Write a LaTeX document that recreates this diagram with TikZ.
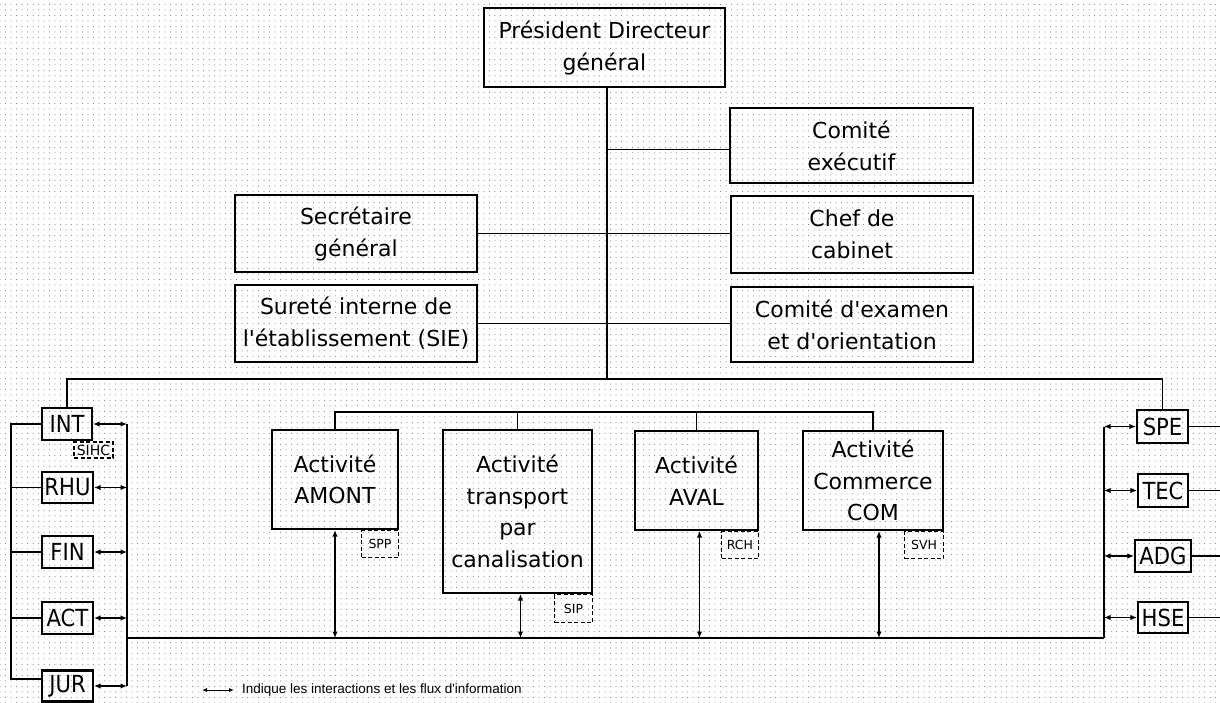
\documentclass[tikz,border=0pt]{standalone}
\usepackage{fontspec}
\setmainfont{DejaVu Sans}[Ligatures=TeXOff]
\newfontfamily\unitfont{DejaVu Sans Condensed}[Ligatures=TeXOff]
\newfontfamily\legendfont{Liberation Sans}[Ligatures=TeXOff]
\usetikzlibrary{arrows.meta,patterns.meta}

\tikzset{
  orgbox/.style={draw, line width=2.1pt, align=center, inner sep=0pt,
    font=\fontsize{22}{32}\selectfont},
  actbox/.style={orgbox, font=\fontsize{22}{31.5}\selectfont},
  unitbox/.style={draw, line width=2.1pt, inner sep=0pt,
    font=\unitfont\fontsize{23.5}{23.5}\selectfont},
  tagbox/.style={draw, line width=1.1pt, dash pattern=on 4pt off 2.5pt,
    inner sep=0pt, anchor=north east, font=\fontsize{12.5}{12.5}\selectfont},
  link/.style={line width=1.9pt},
  flow/.style={line width=1.5pt,
    {Latex[length=6.5pt,width=5.5pt]}-{Latex[length=6.5pt,width=5.5pt]}},
  legendflow/.style={line width=1pt,
    {Latex[length=5pt,width=4pt]}-{Latex[length=5pt,width=4pt]}},
}

\begin{document}
\begin{tikzpicture}[x=1pt, y=-1pt]
\useasboundingbox (0,0) rectangle (1220,703);
% dotted drawing grid behind the chart
\fill[pattern={Dots[distance=5.5pt, radius=0.5pt]}, pattern color=black!55]
  (0,0) rectangle (1220,703);

% ---- direction ----
\node[orgbox, minimum width=241, minimum height=79] (pdg) at (604.5,47.5) {Président Directeur\\général};
\node[orgbox, minimum width=243, minimum height=75] (cex) at (851.5,145.5) {Comité\\exécutif};
\node[orgbox, minimum width=242, minimum height=77] (cab) at (852,234.5) {Chef de\\cabinet};
\node[orgbox, minimum width=242, minimum height=75] (cxo) at (852,324.5) {Comité d'examen\\et d'orientation};
\node[orgbox, minimum width=242, minimum height=77] (sg) at (356,233.5) {Secrétaire\\général};
\node[orgbox, minimum width=242, minimum height=77] (sie) at (356,323.5) {Sureté interne de\\l'établissement (SIE)};

% ---- activities ----
\node[actbox, minimum width=126, minimum height=99] (amont) at (335,479.5) {Activité\\AMONT};
\node[actbox, minimum width=149, minimum height=163] (trans) at (517.5,511.5) {Activité\\transport\\par\\canalisation};
\node[actbox, minimum width=123, minimum height=99] (aval) at (696.5,480.5) {Activité\\AVAL};
\node[actbox, minimum width=140, minimum height=99] (com) at (873,480.5) {Activité\\Commerce\\COM};

\node[tagbox, minimum width=37, minimum height=27] (spp) at (amont.south east) {SPP};
\node[tagbox, minimum width=38, minimum height=28] (sip) at (trans.south east) {SIP};
\node[tagbox, minimum width=37, minimum height=27] (rch) at (aval.south east) {RCH};
\node[tagbox, minimum width=39, minimum height=27] (svh) at (com.south east) {SVH};

% ---- support units ----
\node[unitbox, minimum width=50, minimum height=32] (int) at (67,424) {INT};
\node[unitbox, minimum width=51, minimum height=31] (rhu) at (67.5,487.5) {RHU};
\node[unitbox, minimum width=51, minimum height=32] (fin) at (67.5,552) {FIN};
\node[unitbox, minimum width=51, minimum height=32] (act) at (67.5,618) {ACT};
\node[unitbox, minimum width=51, minimum height=31] (jur) at (67.5,686) {JUR};
\node[tagbox, anchor=center, minimum width=39, minimum height=16,
      font=\fontsize{14}{14}\selectfont] (sihc) at (93.5,450) {SIHC};

\node[unitbox, minimum width=51, minimum height=33] (spe) at (1162.5,426.5) {SPE};
\node[unitbox, minimum width=50, minimum height=33] (tec) at (1163,490.5) {TEC};
\node[unitbox, minimum width=56, minimum height=32] (adg) at (1163,556) {ADG};
\node[unitbox, minimum width=50, minimum height=31] (hse) at (1163,617.5) {HSE};

% ---- reference points ----
\coordinate (hub) at (607,379);
\coordinate (actbus) at (607,412);
\coordinate (lb) at (127,638);
\coordinate (rb) at (1104,638);
\coordinate (ol) at (11,424);
\coordinate (edge) at (1220,0);

% ---- hierarchy lines ----
\draw[link] (hub |- pdg.south) -- (hub);
\draw[link] ([yshift=-4pt]cex.west) -- ([yshift=-4pt]cex.west -| hub);
\draw[link] (sg.east) -- (sg.east -| cab.west);
\draw[link] (sie.east) -- (sie.east -| cxo.west);
\draw[link] (int.north) -- (int.north |- hub) -- (spe.north |- hub) -- (spe.north);

\draw[link] (amont.north) -- (amont.north |- actbus) -- (com.north |- actbus) -- (com.north);
\draw[link] (trans.north) -- (trans.north |- actbus);
\draw[link] (aval.north) -- (aval.north |- actbus);

% ---- information bus ----
\draw[link] (lb) -- (rb);
\draw[link] (int.east -| lb) -- (jur.east -| lb);
\draw[link] (spe.west -| rb) -- (rb);

% outer ring joining the left units
\draw[link] (int.west) -- (int.west -| ol) -- ([yshift=7pt]jur.west -| ol) -- ([yshift=7pt]jur.west);
\draw[link] (rhu.west) -- (rhu.west -| ol);
\draw[link] (fin.west) -- (fin.west -| ol);
\draw[link] (act.west) -- (act.west -| ol);

% lines leaving the right units
\foreach \u in {spe,tec,adg,hse}
  \draw[link] (\u.east) -- (\u.east -| edge);

% ---- exchanges ----
\foreach \u in {int,rhu,fin,act,jur}
  \draw[flow] (\u.east) -- (\u.east -| lb);
\foreach \u in {spe,tec,adg,hse}
  \draw[flow] (\u.west -| rb) -- (\u.west);
\draw[flow] (amont.south) -- (amont.south |- lb);
\draw[flow] ([xshift=3pt]trans.south) -- ([xshift=3pt]trans.south |- lb);
\draw[flow] ([xshift=3pt]aval.south) -- ([xshift=3pt]aval.south |- lb);
\draw[flow] ([xshift=6pt]com.south) -- ([xshift=6pt]com.south |- lb);

% ---- legend ----
\node[anchor=west, inner sep=0pt, font=\legendfont\fontsize{13.5}{13.5}\selectfont] (legend) at (242,690)
  {Indique les interactions et les flux d'information};
\draw[legendflow] ([xshift=-40pt]legend.west) -- ([xshift=-8pt]legend.west);
\end{tikzpicture}
\end{document}
